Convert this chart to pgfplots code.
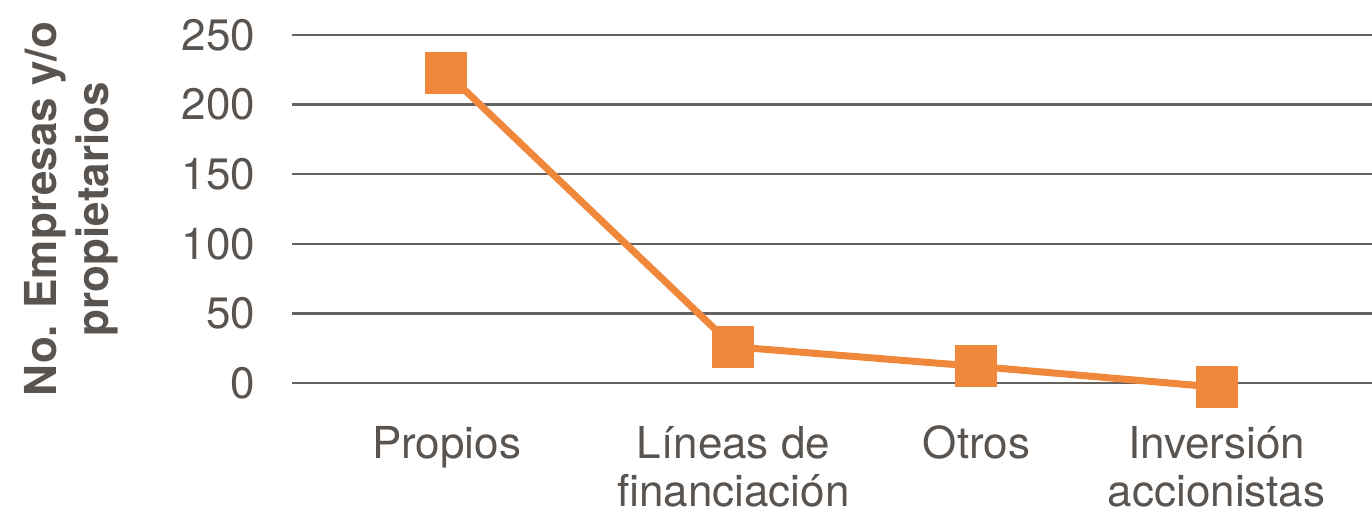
\documentclass[border=0pt]{standalone}
\usepackage{fontspec}
\setmainfont{TeX Gyre Heros}
\usepackage{pgfplots}
\pgfplotsset{compat=1.18}
\definecolor{txt}{HTML}{5A5450}
\definecolor{grd}{HTML}{67625E}
\definecolor{org}{HTML}{F0883C}
\begin{document}
\begin{tikzpicture}
\begin{axis}[
  scale only axis,
  width=540pt, height=174pt,
  xmin=292, xmax=1372,
  ymin=0, ymax=250,
  clip=false,
  axis line style={draw=none},
  ytick={0,50,100,150,200,250},
  ymajorgrids=true,
  grid style={grd, line width=1.2pt},
  major tick length=0pt,
  xtick={446.5,733.5,976.5,1216.7},
  xticklabels={Propios, {L\'ineas de\\financiaci\'on}, Otros, {Inversi\'on\\accionistas}},
  /pgf/number format/assume math mode=true,
  tick label style={font=\fontsize{22}{24}\selectfont, text=txt},
  yticklabel style={xshift=-15pt},
  xticklabel style={align=center, anchor=north, yshift=-18pt},
  ylabel={No. Empresas y/o\\propietarios},
  ylabel style={font=\fontsize{22}{26}\selectfont\bfseries, text=txt, align=center,
    at={(axis description cs:-0.2046,0.5)}, anchor=center},
]
\addplot[org, line width=3.5pt, mark=square*, mark size=8.75pt, mark options={solid, fill=org, draw=none}]
  coordinates {(446.5,223) (733.5,26) (976.5,12) (1216.7,-3)};
\end{axis}
\pgfresetboundingbox
\path[use as bounding box] ([xshift=-146pt,yshift=-63.5pt]current axis.south west) rectangle ([yshift=17.5pt]current axis.north east);
\end{tikzpicture}
\end{document}
